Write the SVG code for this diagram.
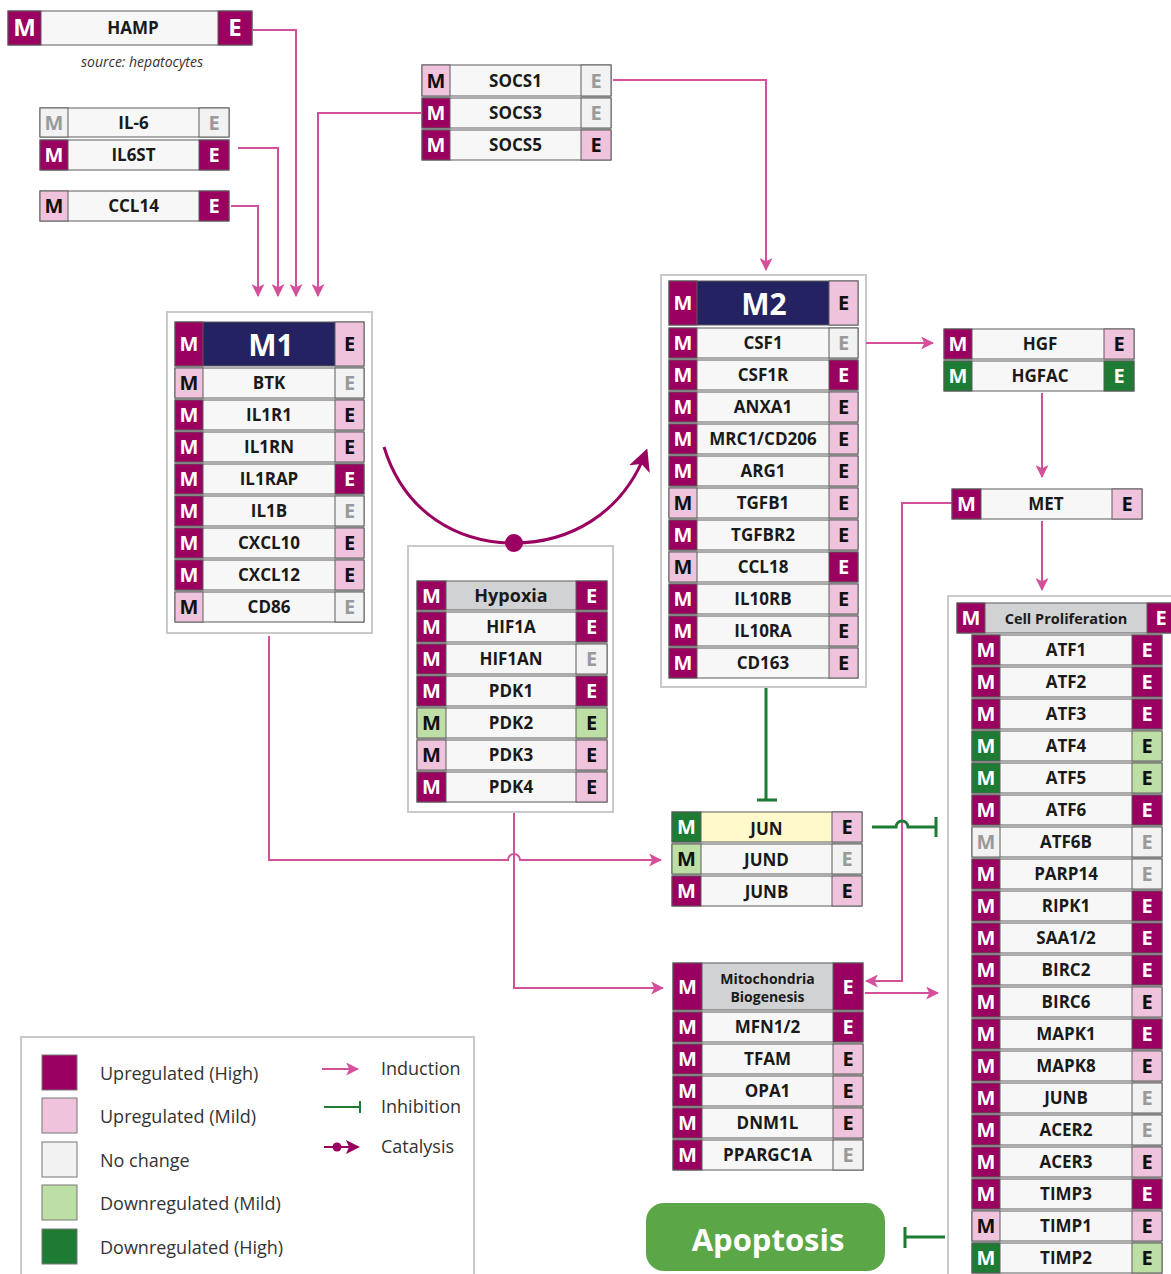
<svg xmlns="http://www.w3.org/2000/svg" width="1171" height="1274" viewBox="0 0 1171 1274">
<defs>
<style>
.hi{fill:#9a0060}.mi{fill:#f0c3dd}.nc{fill:#f2f2f2}.dm{fill:#bddfa5}.dh{fill:#1d7b33}
.nm{fill:#f6f7f6}.hd{fill:#d1d2d4}.nv{fill:#252262}.yl{fill:#fff9cc}
g.n rect{stroke:#5c5c5c;stroke-width:1}
.ct{fill:#fff;stroke:#c9c9c9;stroke-width:2}
text{font-family:"Open Sans","Noto Sans","DejaVu Sans",sans-serif}
.L{font-weight:700;font-size:20px;text-anchor:middle}
.t{font-weight:700;font-size:17px;text-anchor:middle;fill:#1a1a1a}
.w{fill:#fff}.k{fill:#111}.g{fill:#9a9a9a}
.ind{fill:none;stroke:#d4509a;stroke-width:2}
.inh{fill:none;stroke:#1d7b33;stroke-width:3}
.lg{font-size:18px;fill:#333}
</style>
<marker id="ar" viewBox="0 0 12 12" markerWidth="13" markerHeight="13" refX="11" refY="6" orient="auto" markerUnits="userSpaceOnUse"><path d="M0,0 L12,6 L0,12 L3,6 z" fill="#d4509a"/></marker>
<marker id="arc" viewBox="0 0 12 12" markerWidth="22" markerHeight="22" refX="10" refY="6" orient="auto" markerUnits="userSpaceOnUse"><path d="M0,0 L12,6 L0,12 L3,6 z" fill="#9a0060"/></marker>
</defs>
<rect width="1171" height="1274" fill="#fff"/>

<!-- containers -->
<rect class="ct" x="167" y="312" width="205" height="321"/>
<rect class="ct" x="408" y="546" width="205" height="266"/>
<rect class="ct" x="661" y="275" width="205" height="412"/>
<rect class="ct" x="948" y="596" width="240" height="700"/>
<rect class="ct" x="21" y="1037" width="453" height="260"/>

<!-- connectors -->
<g id="connectors">
<path class="ind" d="M253,30 H296 V296" marker-end="url(#ar)"/>
<path class="ind" d="M238,148 H278 V296" marker-end="url(#ar)"/>
<path class="ind" d="M231,206 H258 V296" marker-end="url(#ar)"/>
<path class="ind" d="M421,113 H318 V296" marker-end="url(#ar)"/>
<path class="ind" d="M613,80 H766 V270" marker-end="url(#ar)"/>
<path class="ind" d="M866,343 H933" marker-end="url(#ar)"/>
<path class="ind" d="M1042,393 V477" marker-end="url(#ar)"/>
<path class="ind" d="M1042,521 V590" marker-end="url(#ar)"/>
<path class="ind" d="M952,503 H902 V981 H866" marker-end="url(#ar)"/>
<path class="ind" d="M269,636 V860 H508 A6,6 0 0 1 520,860 H661" marker-end="url(#ar)"/>
<path class="ind" d="M514,813 V988 H663" marker-end="url(#ar)"/>
<path class="ind" d="M865,993 H938" marker-end="url(#ar)"/>
<path d="M384,447 C405,515 460,543 514,543 C568,543 622,515 646,452" fill="none" stroke="#9a0060" stroke-width="3" marker-end="url(#arc)"/>
<circle cx="514" cy="543" r="9" fill="#9a0060"/>
<path class="inh" d="M766,688 V800 M757,800 H777"/>
<path class="inh" d="M872,827 H896 A6,6 0 0 1 908,827 H936 M936,817 V837"/>
<path class="inh" d="M945,1237 H905 M905,1227 V1248"/>
</g>

<!-- HAMP -->
<g id="HAMP" class="n">
<rect class="nm" x="8" y="11" width="244" height="34"/><rect class="hi" x="8" y="11" width="33" height="34"/><rect class="hi" x="218" y="11" width="34" height="34"/>
<text class="L w" x="24.5" y="36" style="font-size:24px">M</text><text class="t" x="133" y="34">HAMP</text><text class="L w" x="235" y="36" style="font-size:24px">E</text>
</g>
<text x="142" y="67" style="font-size:14px;font-style:italic;fill:#333;text-anchor:middle">source: hepatocytes</text>

<g id="IL-6" class="n"><rect class="nm" x="40" y="108" width="189" height="29"/><rect class="nc" x="40" y="108" width="28" height="29"/><rect class="nc" x="199" y="108" width="30" height="29"/>
<text class="L g" x="54" y="129.5">M</text><text class="t" x="133.5" y="128.5">IL-6</text><text class="L g" x="214" y="129.5">E</text></g>
<g id="IL6ST" class="n"><rect class="nm" x="40" y="140" width="189" height="30"/><rect class="hi" x="40" y="140" width="28" height="30"/><rect class="hi" x="199" y="140" width="30" height="30"/>
<text class="L w" x="54" y="162">M</text><text class="t" x="133.5" y="161">IL6ST</text><text class="L w" x="214" y="162">E</text></g>
<g id="CCL14" class="n"><rect class="nm" x="40" y="191" width="189" height="30"/><rect class="mi" x="40" y="191" width="28" height="30"/><rect class="hi" x="199" y="191" width="30" height="30"/>
<text class="L k" x="54" y="213">M</text><text class="t" x="133.5" y="212">CCL14</text><text class="L w" x="214" y="213">E</text></g>

<!-- SOCS -->
<g id="SOCS1" class="n"><rect class="nm" x="422" y="65" width="189" height="31"/><rect class="mi" x="422" y="65" width="28" height="31"/><rect class="nc" x="581" y="65" width="30" height="31"/>
<text class="L k" x="436" y="87.5">M</text><text class="t" x="515.5" y="86.5">SOCS1</text><text class="L g" x="596" y="87.5">E</text></g>
<g id="SOCS3" class="n"><rect class="nm" x="422" y="98" width="189" height="30"/><rect class="hi" x="422" y="98" width="28" height="30"/><rect class="nc" x="581" y="98" width="30" height="30"/>
<text class="L w" x="436" y="120">M</text><text class="t" x="515.5" y="119">SOCS3</text><text class="L g" x="596" y="120">E</text></g>
<g id="SOCS5" class="n"><rect class="nm" x="422" y="130" width="189" height="30"/><rect class="hi" x="422" y="130" width="28" height="30"/><rect class="mi" x="581" y="130" width="30" height="30"/>
<text class="L w" x="436" y="152">M</text><text class="t" x="515.5" y="151">SOCS5</text><text class="L k" x="596" y="152">E</text></g>

<!-- M1 -->
<g id="M1" class="n"><rect class="nv" x="175" y="322" width="189" height="44"/><rect class="hi" x="175" y="322" width="28" height="44"/><rect class="mi" x="335" y="322" width="29" height="44"/>
<text class="L w" x="189" y="351">M</text><text class="L w" x="271" y="356" style="font-size:30px">M1</text><text class="L k" x="349.5" y="351">E</text></g>
<g id="BTK" class="n"><rect class="nm" x="175" y="368" width="189" height="30"/><rect class="mi" x="175" y="368" width="28" height="30"/><rect class="nc" x="335" y="368" width="29" height="30"/>
<text class="L k" x="189" y="390">M</text><text class="t" x="269" y="389">BTK</text><text class="L g" x="349.5" y="390">E</text></g>
<g id="IL1R1" class="n"><rect class="nm" x="175" y="400" width="189" height="30"/><rect class="hi" x="175" y="400" width="28" height="30"/><rect class="mi" x="335" y="400" width="29" height="30"/>
<text class="L w" x="189" y="422">M</text><text class="t" x="269" y="421">IL1R1</text><text class="L k" x="349.5" y="422">E</text></g>
<g id="IL1RN" class="n"><rect class="nm" x="175" y="432" width="189" height="30"/><rect class="hi" x="175" y="432" width="28" height="30"/><rect class="mi" x="335" y="432" width="29" height="30"/>
<text class="L w" x="189" y="454">M</text><text class="t" x="269" y="453">IL1RN</text><text class="L k" x="349.5" y="454">E</text></g>
<g id="IL1RAP" class="n"><rect class="nm" x="175" y="464" width="189" height="30"/><rect class="hi" x="175" y="464" width="28" height="30"/><rect class="hi" x="335" y="464" width="29" height="30"/>
<text class="L w" x="189" y="486">M</text><text class="t" x="269" y="485">IL1RAP</text><text class="L w" x="349.5" y="486">E</text></g>
<g id="IL1B" class="n"><rect class="nm" x="175" y="496" width="189" height="30"/><rect class="hi" x="175" y="496" width="28" height="30"/><rect class="nc" x="335" y="496" width="29" height="30"/>
<text class="L w" x="189" y="518">M</text><text class="t" x="269" y="517">IL1B</text><text class="L g" x="349.5" y="518">E</text></g>
<g id="CXCL10" class="n"><rect class="nm" x="175" y="528" width="189" height="30"/><rect class="hi" x="175" y="528" width="28" height="30"/><rect class="mi" x="335" y="528" width="29" height="30"/>
<text class="L w" x="189" y="550">M</text><text class="t" x="269" y="549">CXCL10</text><text class="L k" x="349.5" y="550">E</text></g>
<g id="CXCL12" class="n"><rect class="nm" x="175" y="560" width="189" height="30"/><rect class="hi" x="175" y="560" width="28" height="30"/><rect class="mi" x="335" y="560" width="29" height="30"/>
<text class="L w" x="189" y="582">M</text><text class="t" x="269" y="581">CXCL12</text><text class="L k" x="349.5" y="582">E</text></g>
<g id="CD86" class="n"><rect class="nm" x="175" y="592" width="189" height="30"/><rect class="mi" x="175" y="592" width="28" height="30"/><rect class="nc" x="335" y="592" width="29" height="30"/>
<text class="L k" x="189" y="614">M</text><text class="t" x="269" y="613">CD86</text><text class="L g" x="349.5" y="614">E</text></g>

<!-- Hypoxia -->
<g id="Hypoxia" class="n"><rect class="hd" x="417" y="581" width="190" height="29"/><rect class="hi" x="417" y="581" width="29" height="29"/><rect class="hi" x="576" y="581" width="31" height="29"/>
<text class="L w" x="431.5" y="602.5">M</text><text class="t" x="511" y="602" style="font-size:18px">Hypoxia</text><text class="L w" x="591.5" y="602.5">E</text></g>
<g id="HIF1A" class="n"><rect class="nm" x="417" y="612" width="190" height="30"/><rect class="hi" x="417" y="612" width="29" height="30"/><rect class="hi" x="576" y="612" width="31" height="30"/>
<text class="L w" x="431.5" y="634">M</text><text class="t" x="511" y="633">HIF1A</text><text class="L w" x="591.5" y="634">E</text></g>
<g id="HIF1AN" class="n"><rect class="nm" x="417" y="644" width="190" height="30"/><rect class="hi" x="417" y="644" width="29" height="30"/><rect class="nc" x="576" y="644" width="31" height="30"/>
<text class="L w" x="431.5" y="666">M</text><text class="t" x="511" y="665">HIF1AN</text><text class="L g" x="591.5" y="666">E</text></g>
<g id="PDK1" class="n"><rect class="nm" x="417" y="676" width="190" height="30"/><rect class="hi" x="417" y="676" width="29" height="30"/><rect class="hi" x="576" y="676" width="31" height="30"/>
<text class="L w" x="431.5" y="698">M</text><text class="t" x="511" y="697">PDK1</text><text class="L w" x="591.5" y="698">E</text></g>
<g id="PDK2" class="n"><rect class="nm" x="417" y="708" width="190" height="30"/><rect class="dm" x="417" y="708" width="29" height="30"/><rect class="dm" x="576" y="708" width="31" height="30"/>
<text class="L k" x="431.5" y="730">M</text><text class="t" x="511" y="729">PDK2</text><text class="L k" x="591.5" y="730">E</text></g>
<g id="PDK3" class="n"><rect class="nm" x="417" y="740" width="190" height="30"/><rect class="mi" x="417" y="740" width="29" height="30"/><rect class="mi" x="576" y="740" width="31" height="30"/>
<text class="L k" x="431.5" y="762">M</text><text class="t" x="511" y="761">PDK3</text><text class="L k" x="591.5" y="762">E</text></g>
<g id="PDK4" class="n"><rect class="nm" x="417" y="772" width="190" height="30"/><rect class="hi" x="417" y="772" width="29" height="30"/><rect class="mi" x="576" y="772" width="31" height="30"/>
<text class="L w" x="431.5" y="794">M</text><text class="t" x="511" y="793">PDK4</text><text class="L k" x="591.5" y="794">E</text></g>

<!-- M2 -->
<g id="M2" class="n"><rect class="nv" x="669" y="281" width="189" height="44"/><rect class="hi" x="669" y="281" width="28" height="44"/><rect class="mi" x="829" y="281" width="29" height="44"/>
<text class="L w" x="683" y="310">M</text><text class="L w" x="764" y="315" style="font-size:30px">M2</text><text class="L k" x="843.5" y="310">E</text></g>
<g id="CSF1" class="n"><rect class="nm" x="669" y="328" width="189" height="30"/><rect class="hi" x="669" y="328" width="28" height="30"/><rect class="nc" x="829" y="328" width="29" height="30"/>
<text class="L w" x="683" y="350">M</text><text class="t" x="763" y="349">CSF1</text><text class="L g" x="843.5" y="350">E</text></g>
<g id="CSF1R" class="n"><rect class="nm" x="669" y="360" width="189" height="30"/><rect class="hi" x="669" y="360" width="28" height="30"/><rect class="hi" x="829" y="360" width="29" height="30"/>
<text class="L w" x="683" y="382">M</text><text class="t" x="763" y="381">CSF1R</text><text class="L w" x="843.5" y="382">E</text></g>
<g id="ANXA1" class="n"><rect class="nm" x="669" y="392" width="189" height="30"/><rect class="hi" x="669" y="392" width="28" height="30"/><rect class="mi" x="829" y="392" width="29" height="30"/>
<text class="L w" x="683" y="414">M</text><text class="t" x="763" y="413">ANXA1</text><text class="L k" x="843.5" y="414">E</text></g>
<g id="MRC1" class="n"><rect class="nm" x="669" y="424" width="189" height="30"/><rect class="hi" x="669" y="424" width="28" height="30"/><rect class="mi" x="829" y="424" width="29" height="30"/>
<text class="L w" x="683" y="446">M</text><text class="t" x="763" y="445">MRC1/CD206</text><text class="L k" x="843.5" y="446">E</text></g>
<g id="ARG1" class="n"><rect class="nm" x="669" y="456" width="189" height="30"/><rect class="hi" x="669" y="456" width="28" height="30"/><rect class="mi" x="829" y="456" width="29" height="30"/>
<text class="L w" x="683" y="478">M</text><text class="t" x="763" y="477">ARG1</text><text class="L k" x="843.5" y="478">E</text></g>
<g id="TGFB1" class="n"><rect class="nm" x="669" y="488" width="189" height="30"/><rect class="mi" x="669" y="488" width="28" height="30"/><rect class="mi" x="829" y="488" width="29" height="30"/>
<text class="L k" x="683" y="510">M</text><text class="t" x="763" y="509">TGFB1</text><text class="L k" x="843.5" y="510">E</text></g>
<g id="TGFBR2" class="n"><rect class="nm" x="669" y="520" width="189" height="30"/><rect class="hi" x="669" y="520" width="28" height="30"/><rect class="mi" x="829" y="520" width="29" height="30"/>
<text class="L w" x="683" y="542">M</text><text class="t" x="763" y="541">TGFBR2</text><text class="L k" x="843.5" y="542">E</text></g>
<g id="CCL18" class="n"><rect class="nm" x="669" y="552" width="189" height="30"/><rect class="mi" x="669" y="552" width="28" height="30"/><rect class="hi" x="829" y="552" width="29" height="30"/>
<text class="L k" x="683" y="574">M</text><text class="t" x="763" y="573">CCL18</text><text class="L w" x="843.5" y="574">E</text></g>
<g id="IL10RB" class="n"><rect class="nm" x="669" y="584" width="189" height="30"/><rect class="hi" x="669" y="584" width="28" height="30"/><rect class="mi" x="829" y="584" width="29" height="30"/>
<text class="L w" x="683" y="606">M</text><text class="t" x="763" y="605">IL10RB</text><text class="L k" x="843.5" y="606">E</text></g>
<g id="IL10RA" class="n"><rect class="nm" x="669" y="616" width="189" height="30"/><rect class="hi" x="669" y="616" width="28" height="30"/><rect class="mi" x="829" y="616" width="29" height="30"/>
<text class="L w" x="683" y="638">M</text><text class="t" x="763" y="637">IL10RA</text><text class="L k" x="843.5" y="638">E</text></g>
<g id="CD163" class="n"><rect class="nm" x="669" y="648" width="189" height="30"/><rect class="hi" x="669" y="648" width="28" height="30"/><rect class="mi" x="829" y="648" width="29" height="30"/>
<text class="L w" x="683" y="670">M</text><text class="t" x="763" y="669">CD163</text><text class="L k" x="843.5" y="670">E</text></g>

<!-- HGF / MET -->
<g id="HGF" class="n"><rect class="nm" x="944" y="329" width="190" height="30"/><rect class="hi" x="944" y="329" width="28" height="30"/><rect class="mi" x="1104" y="329" width="30" height="30"/>
<text class="L w" x="958" y="351">M</text><text class="t" x="1040" y="350">HGF</text><text class="L k" x="1119" y="351">E</text></g>
<g id="HGFAC" class="n"><rect class="nm" x="944" y="361" width="190" height="30"/><rect class="dh" x="944" y="361" width="28" height="30"/><rect class="dh" x="1104" y="361" width="30" height="30"/>
<text class="L w" x="958" y="383">M</text><text class="t" x="1040" y="382">HGFAC</text><text class="L w" x="1119" y="383">E</text></g>
<g id="MET" class="n"><rect class="nm" x="952" y="489" width="190" height="30"/><rect class="hi" x="952" y="489" width="29" height="30"/><rect class="mi" x="1112" y="489" width="30" height="30"/>
<text class="L w" x="966.5" y="511">M</text><text class="t" x="1046" y="510">MET</text><text class="L k" x="1127" y="511">E</text></g>

<!-- Cell Proliferation -->
<g id="CellProliferation" class="n"><rect class="hd" x="957" y="603" width="218" height="30"/><rect class="hi" x="957" y="603" width="28" height="30"/><rect class="hi" x="1147" y="603" width="28" height="30"/>
<text class="L w" x="971" y="625">M</text><text class="t" x="1066" y="624" style="font-size:14.5px">Cell Proliferation</text><text class="L w" x="1161" y="625">E</text></g>
<g id="ATF1" class="n"><rect class="nm" x="972" y="635" width="190" height="30"/><rect class="hi" x="972" y="635" width="28" height="30"/><rect class="hi" x="1132" y="635" width="30" height="30"/>
<text class="L w" x="986" y="657">M</text><text class="t" x="1066" y="656">ATF1</text><text class="L w" x="1147" y="657">E</text></g>
<g id="ATF2" class="n"><rect class="nm" x="972" y="667" width="190" height="30"/><rect class="hi" x="972" y="667" width="28" height="30"/><rect class="hi" x="1132" y="667" width="30" height="30"/>
<text class="L w" x="986" y="689">M</text><text class="t" x="1066" y="688">ATF2</text><text class="L w" x="1147" y="689">E</text></g>
<g id="ATF3" class="n"><rect class="nm" x="972" y="699" width="190" height="30"/><rect class="hi" x="972" y="699" width="28" height="30"/><rect class="hi" x="1132" y="699" width="30" height="30"/>
<text class="L w" x="986" y="721">M</text><text class="t" x="1066" y="720">ATF3</text><text class="L w" x="1147" y="721">E</text></g>
<g id="ATF4" class="n"><rect class="nm" x="972" y="731" width="190" height="30"/><rect class="dh" x="972" y="731" width="28" height="30"/><rect class="dm" x="1132" y="731" width="30" height="30"/>
<text class="L w" x="986" y="753">M</text><text class="t" x="1066" y="752">ATF4</text><text class="L k" x="1147" y="753">E</text></g>
<g id="ATF5" class="n"><rect class="nm" x="972" y="763" width="190" height="30"/><rect class="dh" x="972" y="763" width="28" height="30"/><rect class="dm" x="1132" y="763" width="30" height="30"/>
<text class="L w" x="986" y="785">M</text><text class="t" x="1066" y="784">ATF5</text><text class="L k" x="1147" y="785">E</text></g>
<g id="ATF6" class="n"><rect class="nm" x="972" y="795" width="190" height="30"/><rect class="hi" x="972" y="795" width="28" height="30"/><rect class="hi" x="1132" y="795" width="30" height="30"/>
<text class="L w" x="986" y="817">M</text><text class="t" x="1066" y="816">ATF6</text><text class="L w" x="1147" y="817">E</text></g>
<g id="ATF6B" class="n"><rect class="nm" x="972" y="827" width="190" height="30"/><rect class="nc" x="972" y="827" width="28" height="30"/><rect class="nc" x="1132" y="827" width="30" height="30"/>
<text class="L g" x="986" y="849">M</text><text class="t" x="1066" y="848">ATF6B</text><text class="L g" x="1147" y="849">E</text></g>
<g id="PARP14" class="n"><rect class="nm" x="972" y="859" width="190" height="30"/><rect class="hi" x="972" y="859" width="28" height="30"/><rect class="nc" x="1132" y="859" width="30" height="30"/>
<text class="L w" x="986" y="881">M</text><text class="t" x="1066" y="880">PARP14</text><text class="L g" x="1147" y="881">E</text></g>
<g id="RIPK1" class="n"><rect class="nm" x="972" y="891" width="190" height="30"/><rect class="hi" x="972" y="891" width="28" height="30"/><rect class="hi" x="1132" y="891" width="30" height="30"/>
<text class="L w" x="986" y="913">M</text><text class="t" x="1066" y="912">RIPK1</text><text class="L w" x="1147" y="913">E</text></g>
<g id="SAA1-2" class="n"><rect class="nm" x="972" y="923" width="190" height="30"/><rect class="hi" x="972" y="923" width="28" height="30"/><rect class="hi" x="1132" y="923" width="30" height="30"/>
<text class="L w" x="986" y="945">M</text><text class="t" x="1066" y="944">SAA1/2</text><text class="L w" x="1147" y="945">E</text></g>
<g id="BIRC2" class="n"><rect class="nm" x="972" y="955" width="190" height="30"/><rect class="hi" x="972" y="955" width="28" height="30"/><rect class="hi" x="1132" y="955" width="30" height="30"/>
<text class="L w" x="986" y="977">M</text><text class="t" x="1066" y="976">BIRC2</text><text class="L w" x="1147" y="977">E</text></g>
<g id="BIRC6" class="n"><rect class="nm" x="972" y="987" width="190" height="30"/><rect class="hi" x="972" y="987" width="28" height="30"/><rect class="mi" x="1132" y="987" width="30" height="30"/>
<text class="L w" x="986" y="1009">M</text><text class="t" x="1066" y="1008">BIRC6</text><text class="L k" x="1147" y="1009">E</text></g>
<g id="MAPK1" class="n"><rect class="nm" x="972" y="1019" width="190" height="30"/><rect class="hi" x="972" y="1019" width="28" height="30"/><rect class="hi" x="1132" y="1019" width="30" height="30"/>
<text class="L w" x="986" y="1041">M</text><text class="t" x="1066" y="1040">MAPK1</text><text class="L w" x="1147" y="1041">E</text></g>
<g id="MAPK8" class="n"><rect class="nm" x="972" y="1051" width="190" height="30"/><rect class="hi" x="972" y="1051" width="28" height="30"/><rect class="mi" x="1132" y="1051" width="30" height="30"/>
<text class="L w" x="986" y="1073">M</text><text class="t" x="1066" y="1072">MAPK8</text><text class="L k" x="1147" y="1073">E</text></g>
<g id="JUNB-cp" class="n"><rect class="nm" x="972" y="1083" width="190" height="30"/><rect class="hi" x="972" y="1083" width="28" height="30"/><rect class="nc" x="1132" y="1083" width="30" height="30"/>
<text class="L w" x="986" y="1105">M</text><text class="t" x="1066" y="1104">JUNB</text><text class="L g" x="1147" y="1105">E</text></g>
<g id="ACER2" class="n"><rect class="nm" x="972" y="1115" width="190" height="30"/><rect class="hi" x="972" y="1115" width="28" height="30"/><rect class="nc" x="1132" y="1115" width="30" height="30"/>
<text class="L w" x="986" y="1137">M</text><text class="t" x="1066" y="1136">ACER2</text><text class="L g" x="1147" y="1137">E</text></g>
<g id="ACER3" class="n"><rect class="nm" x="972" y="1147" width="190" height="30"/><rect class="hi" x="972" y="1147" width="28" height="30"/><rect class="mi" x="1132" y="1147" width="30" height="30"/>
<text class="L w" x="986" y="1169">M</text><text class="t" x="1066" y="1168">ACER3</text><text class="L k" x="1147" y="1169">E</text></g>
<g id="TIMP3" class="n"><rect class="nm" x="972" y="1179" width="190" height="30"/><rect class="hi" x="972" y="1179" width="28" height="30"/><rect class="hi" x="1132" y="1179" width="30" height="30"/>
<text class="L w" x="986" y="1201">M</text><text class="t" x="1066" y="1200">TIMP3</text><text class="L w" x="1147" y="1201">E</text></g>
<g id="TIMP1" class="n"><rect class="nm" x="972" y="1211" width="190" height="30"/><rect class="mi" x="972" y="1211" width="28" height="30"/><rect class="mi" x="1132" y="1211" width="30" height="30"/>
<text class="L k" x="986" y="1233">M</text><text class="t" x="1066" y="1232">TIMP1</text><text class="L k" x="1147" y="1233">E</text></g>
<g id="TIMP2" class="n"><rect class="nm" x="972" y="1243" width="190" height="30"/><rect class="dh" x="972" y="1243" width="28" height="30"/><rect class="dm" x="1132" y="1243" width="30" height="30"/>
<text class="L w" x="986" y="1265">M</text><text class="t" x="1066" y="1264">TIMP2</text><text class="L k" x="1147" y="1265">E</text></g>

<!-- JUN -->
<g id="JUN" class="n"><rect class="yl" x="672" y="812" width="190" height="30"/><rect class="dh" x="672" y="812" width="29" height="30"/><rect class="mi" x="832" y="812" width="30" height="30"/>
<text class="L w" x="686.5" y="834">M</text><text class="t" x="766.5" y="835">JUN</text><text class="L k" x="847" y="834">E</text></g>
<g id="JUND" class="n"><rect class="nm" x="672" y="844" width="190" height="30"/><rect class="dm" x="672" y="844" width="29" height="30"/><rect class="nc" x="832" y="844" width="30" height="30"/>
<text class="L k" x="686.5" y="866">M</text><text class="t" x="766.5" y="866">JUND</text><text class="L g" x="847" y="866">E</text></g>
<g id="JUNB" class="n"><rect class="nm" x="672" y="876" width="190" height="30"/><rect class="hi" x="672" y="876" width="29" height="30"/><rect class="mi" x="832" y="876" width="30" height="30"/>
<text class="L w" x="686.5" y="898">M</text><text class="t" x="766.5" y="898">JUNB</text><text class="L k" x="847" y="898">E</text></g>

<!-- Mitochondria -->
<g id="MitochondriaBiogenesis" class="n"><rect class="hd" x="673" y="963" width="190" height="47"/><rect class="hi" x="673" y="963" width="29" height="47"/><rect class="hi" x="833" y="963" width="30" height="47"/>
<text class="L w" x="687.5" y="994">M</text><text class="t" x="767.5" y="984" style="font-size:14px">Mitochondria</text><text class="t" x="767.5" y="1002" style="font-size:14px">Biogenesis</text><text class="L w" x="848" y="994">E</text></g>
<g id="MFN1-2" class="n"><rect class="nm" x="673" y="1012" width="190" height="30"/><rect class="hi" x="673" y="1012" width="29" height="30"/><rect class="hi" x="833" y="1012" width="30" height="30"/>
<text class="L w" x="687.5" y="1034">M</text><text class="t" x="767.5" y="1033">MFN1/2</text><text class="L w" x="848" y="1034">E</text></g>
<g id="TFAM" class="n"><rect class="nm" x="673" y="1044" width="190" height="30"/><rect class="hi" x="673" y="1044" width="29" height="30"/><rect class="mi" x="833" y="1044" width="30" height="30"/>
<text class="L w" x="687.5" y="1066">M</text><text class="t" x="767.5" y="1065">TFAM</text><text class="L k" x="848" y="1066">E</text></g>
<g id="OPA1" class="n"><rect class="nm" x="673" y="1076" width="190" height="30"/><rect class="hi" x="673" y="1076" width="29" height="30"/><rect class="mi" x="833" y="1076" width="30" height="30"/>
<text class="L w" x="687.5" y="1098">M</text><text class="t" x="767.5" y="1097">OPA1</text><text class="L k" x="848" y="1098">E</text></g>
<g id="DNM1L" class="n"><rect class="nm" x="673" y="1108" width="190" height="30"/><rect class="hi" x="673" y="1108" width="29" height="30"/><rect class="mi" x="833" y="1108" width="30" height="30"/>
<text class="L w" x="687.5" y="1130">M</text><text class="t" x="767.5" y="1129">DNM1L</text><text class="L k" x="848" y="1130">E</text></g>
<g id="PPARGC1A" class="n"><rect class="nm" x="673" y="1140" width="190" height="30"/><rect class="hi" x="673" y="1140" width="29" height="30"/><rect class="nc" x="833" y="1140" width="30" height="30"/>
<text class="L w" x="687.5" y="1162">M</text><text class="t" x="767.5" y="1161">PPARGC1A</text><text class="L g" x="848" y="1162">E</text></g>

<!-- Apoptosis -->
<g id="Apoptosis"><rect x="646" y="1203" width="239" height="68" rx="18" fill="#5ba646"/>
<text x="768" y="1251" style="font-weight:700;font-size:31px;fill:#fff;text-anchor:middle">Apoptosis</text></g>

<!-- Legend -->
<g id="legend">
<g stroke="#777" stroke-width="1">
<rect class="hi" x="42" y="1055" width="35" height="35"/>
<rect class="mi" x="42" y="1098" width="35" height="35"/>
<rect class="nc" x="42" y="1142" width="35" height="35"/>
<rect class="dm" x="42" y="1185" width="35" height="35"/>
<rect class="dh" x="42" y="1229" width="35" height="35"/>
</g>
<text class="lg" x="100" y="1080">Upregulated (High)</text>
<text class="lg" x="100" y="1123">Upregulated (Mild)</text>
<text class="lg" x="100" y="1167">No change</text>
<text class="lg" x="100" y="1210">Downregulated (Mild)</text>
<text class="lg" x="100" y="1254">Downregulated (High)</text>
<path class="ind" d="M322,1069 H358" marker-end="url(#ar)"/>
<path d="M324,1107 H360 M360,1101 V1113" fill="none" stroke="#1d7b33" stroke-width="2"/>
<path d="M324,1147 H356" fill="none" stroke="#9a0060" stroke-width="2"/>
<circle cx="337" cy="1147" r="4.5" fill="#9a0060"/>
<path d="M346,1140 L360,1147 L346,1154 L349,1147 z" fill="#9a0060"/>
<text class="lg" x="381" y="1075">Induction</text>
<text class="lg" x="381" y="1113">Inhibition</text>
<text class="lg" x="381" y="1153">Catalysis</text>
</g>
</svg>
